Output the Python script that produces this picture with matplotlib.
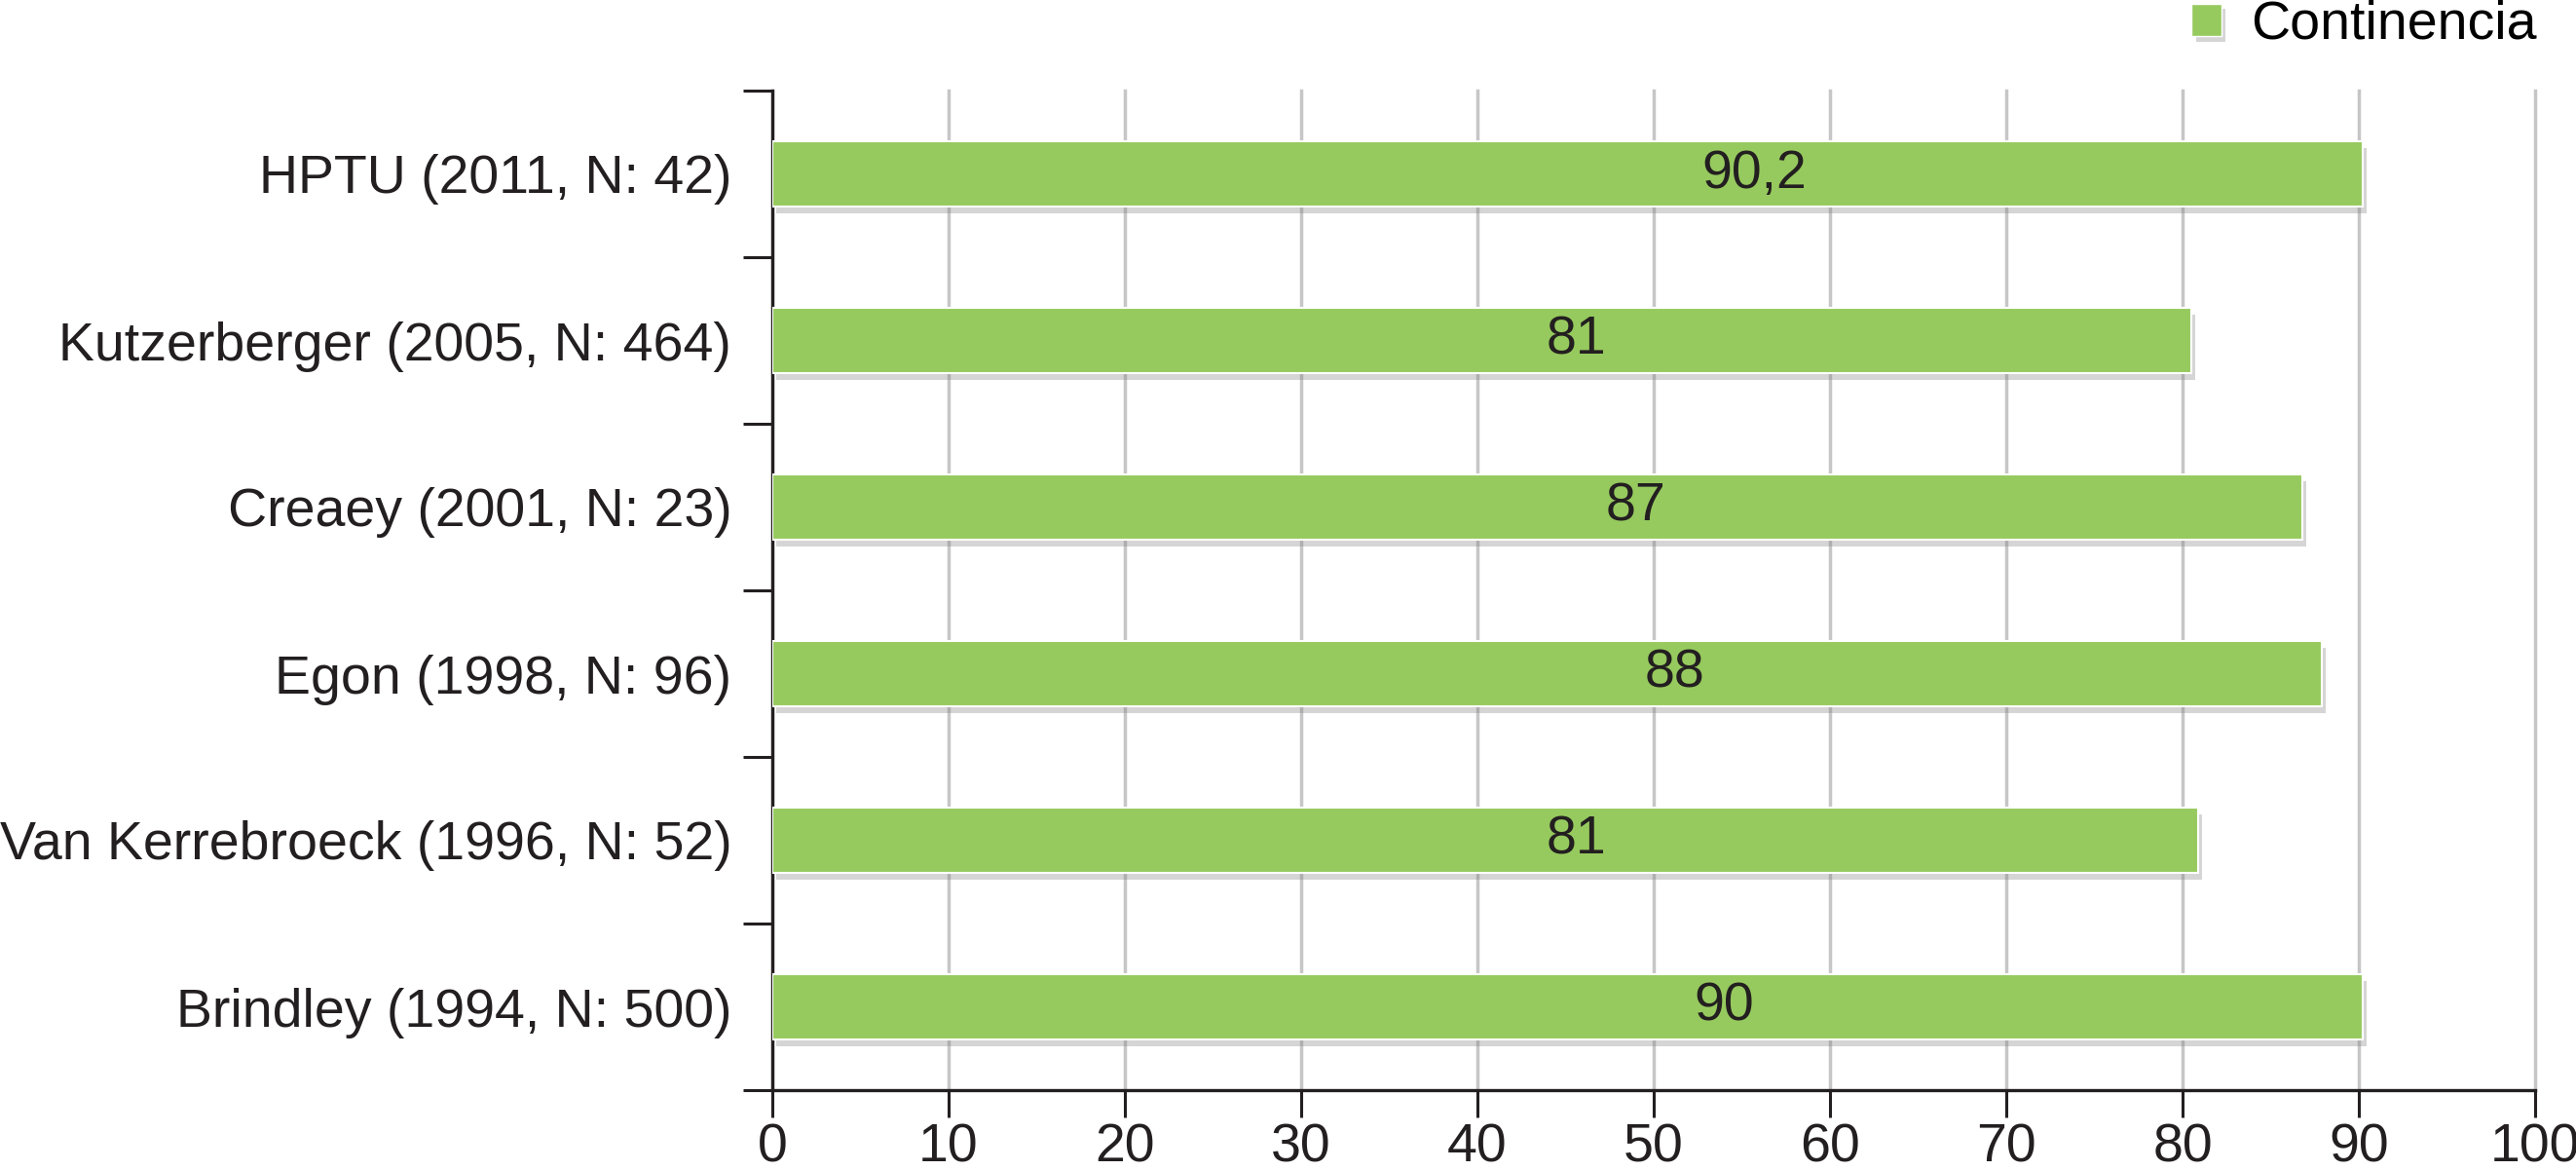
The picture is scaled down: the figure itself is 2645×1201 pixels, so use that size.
import matplotlib.pyplot as plt
import matplotlib.patheffects as pe
from matplotlib.patches import Patch
import numpy as np

plt.rcParams['font.family'] = ['Liberation Sans', 'DejaVu Sans']

# data, top to bottom as in the figure
studies = ["HPTU (2011, N: 42)",
           "Kutzerberger (2005, N: 464)",
           "Creaey (2001, N: 23)",
           "Egon (1998, N: 96)",
           "Van Kerrebroeck (1996, N: 52)",
           "Brindley (1994, N: 500)"]
continencia = [90.2, 80.5, 86.8, 87.9, 80.9, 90.2]   # bar lengths
value_text = ["90,2", "81", "87", "88", "81", "90"]
text_x = [55.7, 45.6, 49.0, 51.2, 45.6, 54.0]        # where the labels sit

green = '#96ca5e'
dark = '#231f20'
fs = 40

fig = plt.figure(figsize=(26.45, 12.01), dpi=100)
ax = fig.add_axes([793 / 2645, 1 - 1119 / 1201, 1810 / 2645, 1026 / 1201])

y = np.arange(len(studies))
bars = ax.barh(y, continencia, height=0.39, color=green, edgecolor='white',
               linewidth=1.5, zorder=3)
for b in bars:
    b.set_path_effects([pe.SimplePatchShadow(offset=(3, -5), shadow_rgbFace='#777777', alpha=0.3),
                        pe.Normal()])

for yi, t, xp in zip(y, value_text, text_x):
    ax.text(xp, yi, t, ha='center', va='center', fontsize=fs, color=dark, zorder=4)

ax.set_xlim(0, 100)
ax.set_ylim(len(studies) - 0.5, -0.5)
ax.set_xticks(np.arange(0, 101, 10))
ax.set_yticks(y)
ax.set_yticklabels(studies)
ax.set_yticks(np.arange(-0.5, len(studies)), minor=True)

ax.tick_params(axis='y', which='major', length=0, pad=30, labelsize=fs, labelcolor=dark)
ax.tick_params(axis='y', which='minor', length=21.6, width=2.2, color=dark)
ax.tick_params(axis='x', length=20, width=2.2, pad=4, labelsize=fs, labelcolor=dark, color=dark)

ax.grid(axis='x', color='#c6c6c6', linewidth=2.5)
ax.set_axisbelow(True)
for gl in ax.get_xgridlines():
    gl.set_clip_on(False)

for s in ['top', 'right']:
    ax.spines[s].set_visible(False)
for s in ['left', 'bottom']:
    ax.spines[s].set_linewidth(2.4)
    ax.spines[s].set_color(dark)

leg = ax.legend(handles=[Patch(facecolor=green, edgecolor='white', label='Continencia')],
                loc='upper right', bbox_to_anchor=(2605 / 2645, 1.0), bbox_transform=fig.transFigure,
                frameon=False, fontsize=fs, handlelength=0.55, handleheight=0.55,
                handletextpad=0.55, borderpad=0, borderaxespad=0)
for h in leg.legend_handles:
    h.set_path_effects([pe.SimplePatchShadow(offset=(3, -4), shadow_rgbFace='#777777', alpha=0.3),
                        pe.Normal()])

fig.savefig('out.png', dpi=100)
